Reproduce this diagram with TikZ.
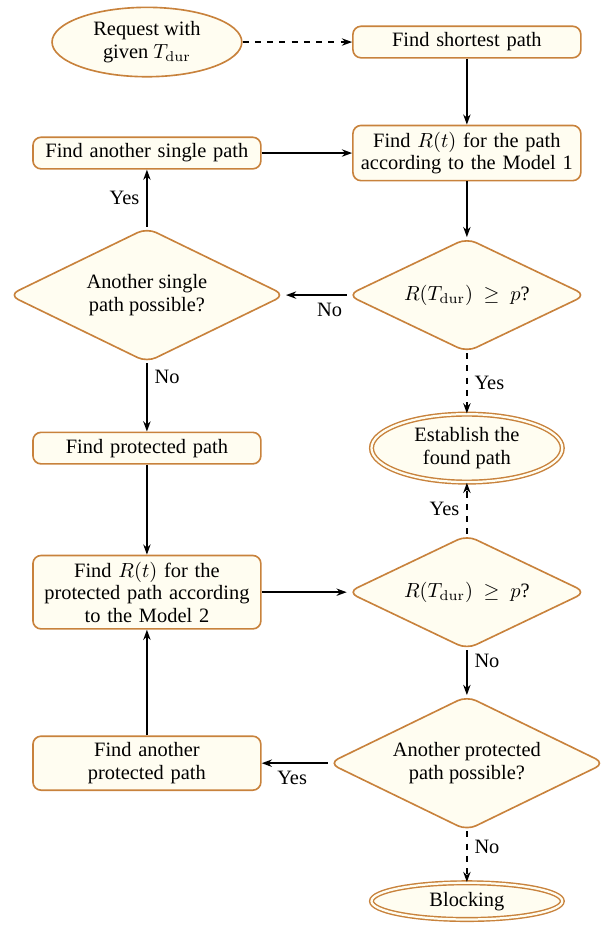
\documentclass[tikz,border=0pt]{standalone}
\usepackage[no-math]{fontspec}
\setmainfont{Liberation Serif}
\usepackage{amsmath}
\usetikzlibrary{shapes.geometric,positioning,arrows.meta}

\definecolor{boxborder}{RGB}{200,130,60}
\definecolor{boxfill}{RGB}{255,253,241}

\tikzset{
  base/.style={draw=boxborder, fill=boxfill, line width=0.8pt, align=center},
  process/.style={base, rectangle, rounded corners=4pt, text width=104pt,
    minimum width=111.7pt, minimum height=14.7pt, inner xsep=3.85pt, inner ysep=3.2pt},
  decision/.style={base, diamond, aspect=2, rounded corners=5pt, inner sep=0pt},
  terminal/.style={base, ellipse, inner sep=0pt},
  finish/.style={terminal, double=boxfill, double distance=1.1pt, line width=0.7pt},
  flow/.style={-{Stealth[length=5pt,width=3.6pt]}, line width=0.8pt}
}

\begin{document}
\begin{tikzpicture}[on grid, font=\fontsize{10}{11}\selectfont]
  \useasboundingbox (-72pt,20.6pt) rectangle (223pt,-432.7pt);

  \node[terminal, minimum width=93pt, minimum height=34pt] (request) {Request with\\given $T_{\mathrm{dur}}$};
  \node[process, right=156.8pt of request] (shortest) {Find shortest path};
  \node[process, below=54.4pt of shortest] (model1) {Find $R(t)$ for the path\\according to the Model 1};
  \node[process, left=156.8pt of model1] (single) {Find another single path};

  \node[decision, minimum width=117pt, minimum height=56pt, below=69.6pt of model1] (check1)
    {$R(T_{\mathrm{dur}})\ \geq\ p$?};
  \node[decision, minimum width=135.5pt, minimum height=66pt, left=156.8pt of check1] (singleq)
    {Another single\\path possible?};

  \node[process, below=75pt of singleq] (protected) {Find protected path};
  \node[finish, minimum width=93.5pt, minimum height=33.3pt, below=75pt of check1] (establish)
    {Establish the\\found path};

  \node[process, below=70.6pt of protected] (model2) {Find $R(t)$ for the\\protected path according\\to the Model 2};
  \node[decision, minimum width=117pt, minimum height=56pt, right=156.8pt of model2] (check2)
    {$R(T_{\mathrm{dur}})\ \geq\ p$?};

  \node[decision, minimum width=135.5pt, minimum height=66pt, below=83.8pt of check2] (protectedq)
    {Another protected\\path possible?};
  \node[process, left=156.8pt of protectedq] (anotherprot) {Find another\\protected path};
  \node[finish, minimum width=93.5pt, minimum height=18pt, below=67.6pt of protectedq] (blocking) {Blocking};

  % connectors
  \draw[flow, dashed] (request) -- (shortest);
  \draw[flow] (shortest) -- (model1);
  \draw[flow] (single) -- (model1);
  \draw[flow] (model1) -- (check1);
  \draw[flow] (check1) -- node[pos=0.28, below] {No} (singleq);
  \draw[flow, dashed] (check1) -- node[right] {Yes} (establish);
  \draw[flow] (singleq) -- node[left] {Yes} (single);
  \draw[flow] (singleq) -- node[pos=0.2, right] {No} (protected);
  \draw[flow] (protected) -- (model2);
  \draw[flow] (model2) -- (check2);
  \draw[flow, dashed] (check2) -- node[left] {Yes} (establish);
  \draw[flow] (check2) -- node[pos=0.25, right] {No} (protectedq);
  \draw[flow] (protectedq) -- node[pos=0.54, below] {Yes} (anotherprot);
  \draw[flow, dashed] (protectedq) -- node[pos=0.3, right] {No} (blocking);
  \draw[flow] (anotherprot) -- (model2);
\end{tikzpicture}
\end{document}
